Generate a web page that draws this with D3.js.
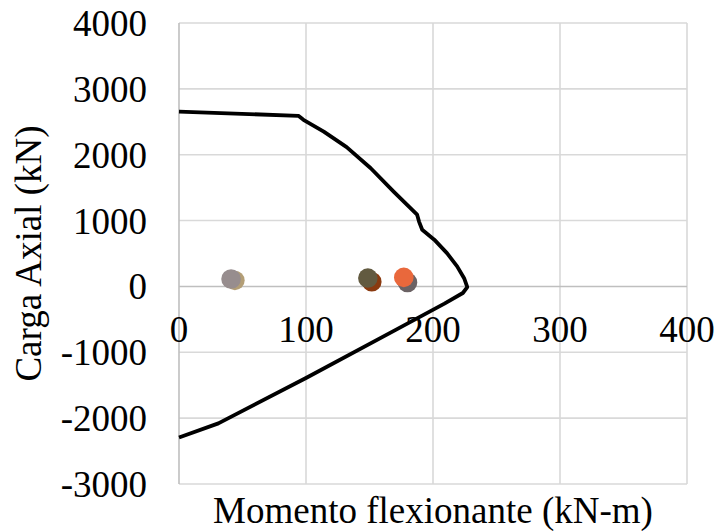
<!DOCTYPE html>
<html>
<head>
<meta charset="utf-8">
<script src="https://cdn.jsdelivr.net/npm/d3@7"></script>
<style>
  html, body { margin: 0; padding: 0; background: #fff; }
  svg text { font-family: "Times New Roman", "Liberation Serif", serif; }
</style>
</head>
<body>
<div id="container"></div>
<script>
// interaction diagram (Momento vs Carga)
const curveMomento = [0, 94, 98, 114, 132, 151, 169, 187.5, 189, 191.5, 201, 211, 219, 224.5, 227, 223.5, 209, 171, 100, 31, 0]
const curveCarga = [2655, 2590, 2530, 2350, 2115, 1795, 1440, 1090, 985, 860, 710, 505, 305, 125, -10, -100, -260, -655, -1390, -2080, -2295]

// demand points: back ones first, then the front ones
const backMomento = [44, 151.8, 179.9]
const backCarga = [91, 71, 59]
const backColors = ["#b39e76", "#8a3a10", "#6b6264"]

const frontMomento = [41, 148.7, 177]
const frontCarga = [112, 127, 137]
const frontColors = ["#978d8e", "#625a40", "#e9683c"]

const xTicks = [0, 100, 200, 300, 400]
const yTicks = [4000, 3000, 2000, 1000, 0, -1000, -2000, -3000]

const width = 718
const height = 531
const plotLeft = 179, plotRight = 687, plotTop = 23, plotBottom = 484
const fontSize = "37px"

const x = d3.scaleLinear().domain([0, 400]).range([plotLeft, plotRight])
const y = d3.scaleLinear().domain([-3000, 4000]).range([plotBottom, plotTop])

const svg = d3.create("svg")
    .attr("width", width)
    .attr("height", height)
    .style("display", "block")

// gridlines
svg.append("g")
    .selectAll("line")
    .data(yTicks.filter(d => d !== 0))
    .enter()
    .append("line")
    .attr("x1", plotLeft)
    .attr("x2", plotRight)
    .attr("y1", d => y(d))
    .attr("y2", d => y(d))
    .style("stroke", "#d9d9d9")
    .style("stroke-width", 1.6)

svg.append("g")
    .selectAll("line")
    .data(xTicks.filter(d => d !== 0))
    .enter()
    .append("line")
    .attr("x1", d => x(d))
    .attr("x2", d => x(d))
    .attr("y1", plotTop)
    .attr("y2", plotBottom)
    .style("stroke", "#d9d9d9")
    .style("stroke-width", 1.6)

// axis lines
svg.append("line")
    .attr("x1", plotLeft).attr("x2", plotRight)
    .attr("y1", y(0)).attr("y2", y(0))
    .style("stroke", "#bfbfbf")
    .style("stroke-width", 1.6)

svg.append("line")
    .attr("x1", x(0)).attr("x2", x(0))
    .attr("y1", plotTop).attr("y2", plotBottom)
    .style("stroke", "#bfbfbf")
    .style("stroke-width", 1.6)

// tick labels
svg.append("g")
    .selectAll("text")
    .data(yTicks)
    .enter()
    .append("text")
    .attr("x", 147)
    .attr("y", d => y(d))
    .attr("dy", "0.35em")
    .attr("text-anchor", "end")
    .attr("font-family", "Liberation Serif")
    .attr("font-size", fontSize)
    .text(d => d)

svg.append("g")
    .selectAll("text")
    .data(xTicks)
    .enter()
    .append("text")
    .attr("x", d => x(d))
    .attr("y", y(0) + 56)
    .attr("text-anchor", "middle")
    .attr("font-family", "Liberation Serif")
    .attr("font-size", fontSize)
    .text(d => d)

// curve
const curveData = curveMomento.map((m, i) => [m, curveCarga[i]])
const line = d3.line()
    .x(d => x(d[0]))
    .y(d => y(d[1]))

svg.append("path")
    .datum(curveData)
    .attr("d", line)
    .style("fill", "none")
    .style("stroke", "#000")
    .style("stroke-width", 3.8)
    .style("stroke-linejoin", "round")

// points
svg.append("g")
    .selectAll("circle")
    .data(backMomento.map((m, i) => ({m: m, p: backCarga[i], c: backColors[i]})))
    .enter()
    .append("circle")
    .attr("cx", d => x(d.m))
    .attr("cy", d => y(d.p))
    .attr("r", 9.8)
    .style("fill", d => d.c)

svg.append("g")
    .selectAll("circle")
    .data(frontMomento.map((m, i) => ({m: m, p: frontCarga[i], c: frontColors[i]})))
    .enter()
    .append("circle")
    .attr("cx", d => x(d.m))
    .attr("cy", d => y(d.p))
    .attr("r", 9.8)
    .style("fill", d => d.c)

// axis titles
svg.append("text")
    .attr("x", (plotLeft + plotRight) / 2)
    .attr("y", 523)
    .attr("text-anchor", "middle")
    .attr("font-family", "Liberation Serif")
    .attr("font-size", fontSize)
    .text("Momento flexionante (kN-m)")

svg.append("text")
    .attr("transform", `translate(41, ${(plotTop + plotBottom) / 2}) rotate(-90)`)
    .attr("text-anchor", "middle")
    .attr("font-family", "Liberation Serif")
    .attr("font-size", fontSize)
    .text("Carga Axial (kN)")

document.querySelector("#container").appendChild(svg.node())
</script>
</body>
</html>
